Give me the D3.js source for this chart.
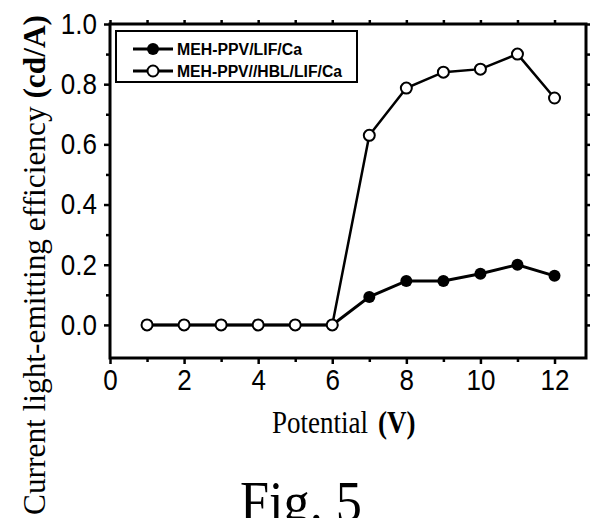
<!DOCTYPE html>
<html>
<head>
<meta charset="utf-8">
<script src="https://cdn.jsdelivr.net/npm/d3@7"></script>
<style>
  body { margin: 0; background: #fff; }
  svg { display: block; }
  .tick text { font-family: "Liberation Sans", Arial, sans-serif; font-size: 26px; fill: #000; }
  .serif { font-family: "Liberation Serif", "Times New Roman", serif; fill: #000; }
</style>
</head>
<body>
<svg id="chart" width="590" height="518"></svg>
<script>
// data
var volts = [1, 2, 3, 4, 5, 6, 7, 8, 9, 10, 11, 12];
var effLiF = [0, 0, 0, 0, 0, 0, 0.093, 0.146, 0.146, 0.17, 0.20, 0.163];
var effHBL = [0, 0, 0, 0, 0, 0, 0.63, 0.787, 0.84, 0.85, 0.90, 0.754];
var seriesNames = ["MEH-PPV/LIF/Ca", "MEH-PPV//HBL/LIF/Ca"];
var xTicks = [0, 2, 4, 6, 8, 10, 12];
var yTicks = [0, 0.2, 0.4, 0.6, 0.8, 1.0];

function drawChart() {
    var svg = d3.select("#chart");
    var pLeft = 110, pRight = 586, pTop = 24, pBottom = 358;

    var x = d3.scaleLinear().domain([0, 12.85]).range([pLeft, pRight]);
    var y = d3.scaleLinear().domain([-0.11, 1.0]).range([pBottom, pTop]);

    // minor ticks (no labels)
    function minor(axis, vals) {
        return axis.tickValues(vals).tickSize(4).tickFormat("");
    }
    var xMinor = d3.range(1, 13, 2), xAll = d3.range(0, 13, 1);
    var yMinor = [0.1, 0.3, 0.5, 0.7, 0.9];
    var yAll = d3.range(0, 11).map(function(d) { return d / 10; });

    svg.append("g").attr("transform", "translate(0," + pBottom + ")").call(minor(d3.axisBottom(x), xMinor));
    svg.append("g").attr("transform", "translate(" + pLeft + ",0)").call(minor(d3.axisLeft(y), yMinor));
    svg.append("g").attr("transform", "translate(0," + pTop + ")").call(minor(d3.axisTop(x), xAll));
    svg.append("g").attr("transform", "translate(" + pRight + ",0)").call(minor(d3.axisRight(y), yAll));

    // major axes
    svg.append("g")
        .attr("transform", "translate(0," + pBottom + ")")
        .call(d3.axisBottom(x).tickValues(xTicks).tickSize(6).tickPadding(4).tickFormat(d3.format("d")));
    svg.append("g")
        .attr("transform", "translate(" + pLeft + ",0)")
        .call(d3.axisLeft(y).tickValues(yTicks).tickSize(6).tickPadding(7).tickFormat(d3.format(".1f")));

    svg.selectAll(".domain").remove();
    svg.selectAll(".tick line").attr("stroke", "#000").attr("stroke-width", 2.5);
    // the scanned digits are a bit taller than Arial
    svg.selectAll(".tick text").attr("transform", "scale(1,1.13)");

    // frame
    svg.append("rect")
        .attr("x", pLeft).attr("y", pTop)
        .attr("width", pRight - pLeft).attr("height", pBottom - pTop)
        .attr("fill", "none").attr("stroke", "#000").attr("stroke-width", 3);

    // series
    var line = d3.line().x(function(d, i) { return x(volts[i]); }).y(function(d) { return y(d); });

    svg.append("path").datum(effLiF)
        .attr("d", line).attr("fill", "none").attr("stroke", "#000").attr("stroke-width", 3);
    svg.append("g").selectAll("circle").data(effLiF).enter().append("circle")
        .attr("cx", function(d, i) { return x(volts[i]); })
        .attr("cy", function(d) { return y(d); })
        .attr("r", 6).attr("fill", "#000");

    svg.append("path").datum(effHBL)
        .attr("d", line).attr("fill", "none").attr("stroke", "#000").attr("stroke-width", 2.5);
    svg.append("g").selectAll("circle").data(effHBL).enter().append("circle")
        .attr("cx", function(d, i) { return x(volts[i]); })
        .attr("cy", function(d) { return y(d); })
        .attr("r", 5.5).attr("fill", "#fff").attr("stroke", "#000").attr("stroke-width", 2);

    // legend
    var lg = svg.append("g");
    lg.append("rect").attr("x", 116).attr("y", 31).attr("width", 241).attr("height", 51)
        .attr("fill", "#fff").attr("stroke", "#000").attr("stroke-width", 2);
    [49, 71].forEach(function(ly, i) {
        lg.append("line").attr("x1", 133).attr("x2", 173).attr("y1", ly).attr("y2", ly)
            .attr("stroke", "#000").attr("stroke-width", 3);
        lg.append("circle").attr("cx", 153).attr("cy", ly).attr("r", i ? 5.5 : 6)
            .attr("fill", i ? "#fff" : "#000").attr("stroke", "#000").attr("stroke-width", i ? 2 : 0);
        lg.append("text").attr("x", 177).attr("y", ly + 6)
            .attr("font-family", "Liberation Sans, Arial, sans-serif")
            .attr("font-size", 16).attr("font-weight", "bold")
            .attr("textLength", i ? 165 : 125).attr("lengthAdjust", "spacingAndGlyphs")
            .text(seriesNames[i]);
    });

    // axis titles
    var yt = svg.append("text").attr("class", "serif")
        .attr("transform", "translate(45,515) rotate(-90)")
        .attr("font-size", 32)
        .attr("textLength", 500).attr("lengthAdjust", "spacingAndGlyphs");
    yt.append("tspan").text("Current light-emitting efficiency ");
    yt.append("tspan").attr("font-weight", "bold").text("(cd/A)");

    // x title: narrower font stretched vertically to match the scan
    svg.append("text").attr("class", "serif")
        .attr("transform", "translate(272,433) scale(1,1.2)")
        .attr("font-size", 27)
        .text("Potential");
    svg.append("text").attr("class", "serif")
        .attr("transform", "translate(378,433) scale(1,1.2)")
        .attr("font-size", 27).attr("font-weight", "bold")
        .text("(V)");

    svg.append("text").attr("class", "serif")
        .attr("x", 240).attr("y", 521)
        .attr("font-size", 56)
        .attr("textLength", 122).attr("lengthAdjust", "spacingAndGlyphs")
        .text("Fig. 5");
}

drawChart();
</script>
</body>
</html>
